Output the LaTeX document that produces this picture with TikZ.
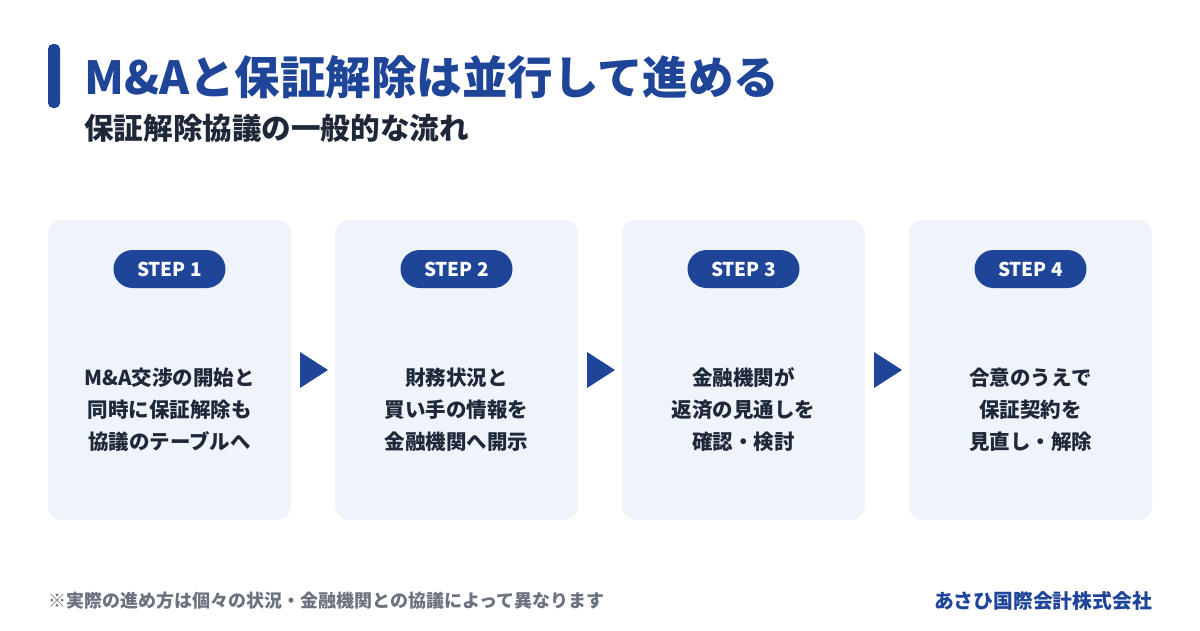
\documentclass[tikz,border=0pt]{standalone}
\usepackage{fontspec}
\setmainfont{Noto Sans CJK JP}
\definecolor{navy}{HTML}{1F4599}
\definecolor{cardbg}{HTML}{EFF3FA}
\definecolor{ink}{HTML}{1E2838}
\definecolor{gr}{HTML}{6B7280}
\begin{document}
\begin{tikzpicture}[x=1pt,y=-1pt,
  card/.style={fill=cardbg,rounded corners=14pt,draw=none},
  pill/.style={fill=navy,rounded corners=19pt,minimum width=112pt,minimum height=38pt,text=white,font=\fontsize{19}{22}\selectfont\bfseries,inner sep=0},
  body/.style={align=center,text=ink,font=\fontsize{20.5}{32}\selectfont\bfseries},
  tri/.style={fill=navy,draw=none}]
\useasboundingbox (0,0) rectangle (1200,630);
\fill[white] (0,0) rectangle (1200,630);
\fill[navy,rounded corners=5pt] (48,44) rectangle (60,108);
\node[anchor=base west,text=navy,font=\fontsize{45.5}{50}\selectfont\bfseries,inner sep=0] (title) at (84,94) {M\&Aと保証解除は並行して進める};
\node[anchor=base west,text=ink,font=\fontsize{29.6}{32}\selectfont\bfseries,inner sep=0] (sub) at (84,139) {保証解除協議の一般的な流れ};
\foreach \i/\x/\t in {1/48/{M\&A交渉の開始と\\同時に保証解除も\\協議のテーブルへ},2/335/{財務状況と\\買い手の情報を\\金融機関へ開示},3/622/{金融機関が\\返済の見通しを\\確認・検討},4/909/{合意のうえで\\保証契約を\\見直し・解除}}{
  \fill[card] (\x,220) rectangle ++(243,300);
  \node[pill] (p\i) at (\x+121.5,269) {STEP \i};
  \node[body] (b\i) at (\x+121.5,410) {\t};
}
\foreach \x in {300,587,874}{
  \fill[tri] (\x,352) -- (\x+28,370) -- (\x,388) -- cycle;
}
\node[anchor=base west,text=gr,font=\fontsize{18}{20}\selectfont\bfseries,inner sep=0] (note) at (48,607) {※実際の進め方は個々の状況・金融機関との協議によって異なります};
\node[anchor=base east,text=navy,font=\fontsize{19.8}{22}\selectfont\bfseries,inner sep=0] (co) at (1152,608) {あさひ国際会計株式会社};
\end{tikzpicture}
\end{document}
